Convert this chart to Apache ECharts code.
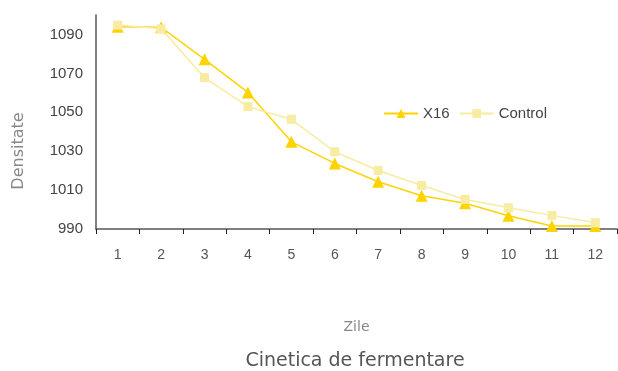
<!DOCTYPE html>
<html>
<head>
<meta charset="utf-8">
<script src="https://cdn.jsdelivr.net/npm/echarts@6/dist/echarts.min.js"></script>
<style>
  html, body { margin: 0; padding: 0; background: #fff; }
  #chart { width: 618px; height: 371px; }
</style>
</head>
<body>
<div id="chart"></div>
<script>
// data
const days = ['1', '2', '3', '4', '5', '6', '7', '8', '9', '10', '11', '12'];
const x16 = [1094, 1093.7, 1077.2, 1060.2, 1034.8, 1023.7, 1014.3, 1007.1, 1003.2, 996.8, 991.5, 991.5];
const control = [1094.8, 1092.9, 1067.8, 1052.9, 1046.4, 1029.7, 1020.1, 1012.4, 1005.2, 1000.9, 997, 993.2];

let chart = echarts.init(document.getElementById('chart'), null, { renderer: 'canvas' });

let option = {
    animation: false,
    title: {
        text: 'Cinetica de fermentare',
        left: 350,
        top: 347,
        textAlign: 'center',
        textStyle: { fontFamily: 'DejaVu Sans', fontWeight: 'normal', fontSize: 19, color: '#555' }
    },
    legend: {
        left: 378,
        top: 101,
        itemWidth: 34,
        itemHeight: 11,
        itemGap: 9,
        textStyle: { fontFamily: 'Liberation Sans', fontSize: 15, color: '#444' },
        data: ['X16', 'Control']
    },
    grid: { left: 96, right: 1, top: 15, bottom: 142, outerBoundsMode: 'none' },
    xAxis: {
        type: 'category',
        data: days,
        boundaryGap: true,
        name: 'Zile',
        nameLocation: 'middle',
        nameGap: 91,
        nameTextStyle: { fontFamily: 'DejaVu Sans', fontSize: 14, color: '#888' },
        axisLine: { lineStyle: { color: '#555', width: 1.5 } },
        axisTick: { show: true, length: 5, lineStyle: { color: '#222', width: 1 } },
        axisLabel: { margin: 19, fontFamily: 'Liberation Sans', fontSize: 14, color: '#555' }
    },
    yAxis: {
        type: 'value',
        min: 990,
        max: 1100,
        interval: 20,
        name: 'Densitate',
        nameLocation: 'middle',
        nameGap: 69,
        nameRotate: 90,
        nameTextStyle: { fontFamily: 'DejaVu Sans', fontSize: 16, color: '#888', padding: [0, 58, 0, 0] },
        axisLine: { show: true, lineStyle: { color: '#555', width: 1.5 } },
        axisTick: { show: false },
        splitLine: { show: false },
        axisLabel: {
            showMaxLabel: false, margin: 13, fontFamily: 'Liberation Sans', fontSize: 15, color: '#444',
            formatter: v => String(v)
        }
    },
    series: [
        {
            name: 'X16',
            type: 'line',
            data: x16,
            symbol: 'triangle',
            symbolSize: 12,
            lineStyle: { color: '#FFD300', width: 1.5 },
            itemStyle: { color: '#FFD300' }
        },
        {
            name: 'Control',
            type: 'line',
            data: control,
            symbol: 'rect',
            symbolSize: 9,
            lineStyle: { color: '#F8EBA2', width: 1.5 },
            itemStyle: { color: '#F8EBA2' }
        }
    ]
};

chart.setOption(option);
</script>
</body>
</html>
